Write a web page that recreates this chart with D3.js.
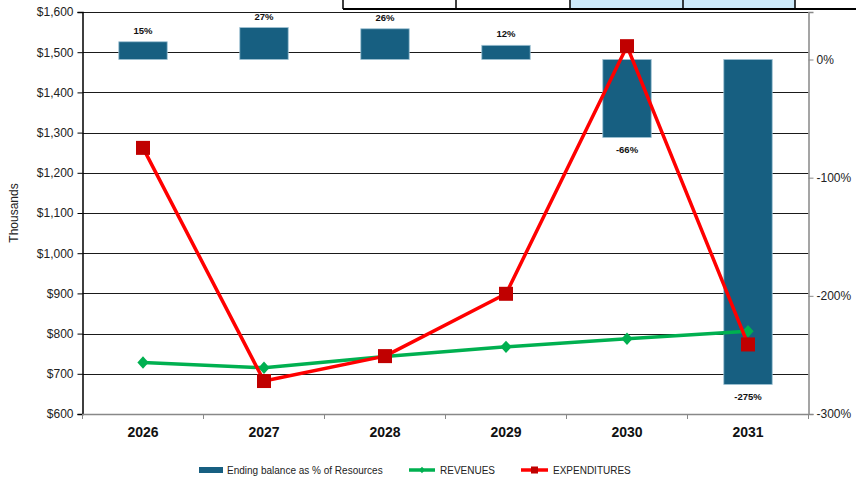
<!DOCTYPE html>
<html>
<head>
<meta charset="utf-8">
<script src="https://cdn.jsdelivr.net/npm/d3@7"></script>
<style>
  html, body { margin: 0; padding: 0; background: #fff; }
  svg { display: block; font-family: "Liberation Sans", Arial, sans-serif; }
</style>
</head>
<body>
<svg id="chart" width="856" height="477"></svg>
<script>
// Fiscal years on the category axis
const years = ["2026", "2027", "2028", "2029", "2030", "2031"];
// Ending balance as a share of resources (percent, right axis)
const balancePct = [15, 27, 26, 12, -66, -275];
// Revenues and expenditures in thousands of dollars (left axis)
const revenues = [728, 715, 743, 767, 787, 806];
const expenditures = [1262, 682, 744, 899, 1515, 773];
// Axis tick values
const leftTicks = [600, 700, 800, 900, 1000, 1100, 1200, 1300, 1400, 1500, 1600];
const rightTicks = [0, -100, -200, -300];

const svg = d3.select("#chart");
const plot = { left: 82.5, right: 808.5, top: 12, bottom: 414 };

const x = d3.scaleBand().domain(years).range([plot.left, plot.right]).paddingInner(0).paddingOuter(0);
const yL = d3.scaleLinear().domain([600, 1600]).range([plot.bottom, plot.top]);
const yR = d3.scaleLinear().domain([-300, 40.2]).range([plot.bottom, plot.top]);
const cx = d => x(d) + x.bandwidth() / 2;

// Header table strip above the plot
const tableCols = [343, 456, 570, 683, 795];
const shaded = [[570, 683], [683, 795]];
shaded.forEach(([a, b]) => {
  svg.append("rect").attr("x", a).attr("y", 0).attr("width", b - a).attr("height", 9)
    .attr("fill", "#cdeafa");
});
svg.append("line").attr("x1", 343).attr("x2", 856).attr("y1", 9).attr("y2", 9)
  .attr("stroke", "#000").attr("stroke-width", 2);
tableCols.forEach(c => {
  svg.append("line").attr("x1", c).attr("x2", c).attr("y1", 0).attr("y2", 9)
    .attr("stroke", "#000").attr("stroke-width", 1.5);
});

// Horizontal gridlines
svg.append("g")
  .selectAll("line")
  .data(leftTicks.filter(t => t > 600 && t < 1600))
  .join("line")
  .attr("x1", plot.left).attr("x2", plot.right)
  .attr("y1", d => Math.round(yL(d)) + 0.5).attr("y2", d => Math.round(yL(d)) + 0.5)
  .attr("stroke", "#1a1a1a").attr("stroke-width", 1);

// Top border of the plot
svg.append("line").attr("x1", plot.left).attr("x2", plot.right)
  .attr("y1", plot.top + 0.5).attr("y2", plot.top + 0.5).attr("stroke", "#1a1a1a");

// Balance bars
const barW = x.bandwidth() * 0.4;
svg.append("g")
  .selectAll("rect")
  .data(years.map((y, i) => ({ y, v: balancePct[i] })))
  .join("rect")
  .attr("x", d => cx(d.y) - barW / 2)
  .attr("y", d => Math.min(yR(d.v), yR(0)))
  .attr("width", barW)
  .attr("height", d => Math.abs(yR(d.v) - yR(0)))
  .attr("fill", "#175f81")
  .attr("stroke", "#9cc0d2")
  .attr("stroke-width", 0.8);

// Bar value labels
svg.append("g")
  .selectAll("text")
  .data(years.map((y, i) => ({ y, v: balancePct[i] })))
  .join("text")
  .attr("x", d => cx(d.y))
  .attr("y", d => d.v >= 0 ? yR(d.v) - 8 : yR(d.v) + 16)
  .attr("text-anchor", "middle")
  .attr("font-size", 9.5)
  .attr("font-weight", "bold")
  .attr("fill", "#111")
  .text(d => d.v + "%");

// Left axis
const leftAxis = d3.axisLeft(yL).tickValues(leftTicks).tickSize(5).tickPadding(4)
  .tickFormat(d => "$" + d3.format(",")(d));
const gL = svg.append("g").attr("transform", `translate(${plot.left},0)`).call(leftAxis);
gL.select(".domain").attr("stroke", "#000").attr("stroke-width", 1.5);
gL.selectAll(".tick line").attr("stroke", "#000");
gL.selectAll(".tick text").attr("font-size", 12).attr("fill", "#222")
  .attr("font-family", "'Liberation Sans', Arial, sans-serif");

// Right axis
const rightAxis = d3.axisRight(yR).tickValues(rightTicks).tickSize(5).tickPadding(3)
  .tickFormat(d => d + "%");
const gR = svg.append("g").attr("transform", `translate(${plot.right},0)`).call(rightAxis);
gR.select(".domain").attr("stroke", "#888").attr("stroke-width", 1.5);
gR.selectAll(".tick line").attr("stroke", "#888");
gR.selectAll(".tick text").attr("font-size", 12).attr("fill", "#222")
  .attr("font-family", "'Liberation Sans', Arial, sans-serif");

// Category axis
svg.append("line").attr("x1", plot.left).attr("x2", plot.right)
  .attr("y1", plot.bottom + 0.5).attr("y2", plot.bottom + 0.5)
  .attr("stroke", "#888").attr("stroke-width", 1.5);
const bounds = years.map(y => x(y)).concat([plot.right]);
svg.append("g").selectAll("line").data(bounds).join("line")
  .attr("x1", d => d).attr("x2", d => d)
  .attr("y1", plot.bottom).attr("y2", plot.bottom + 5)
  .attr("stroke", "#888");
svg.append("g").selectAll("text").data(years).join("text")
  .attr("x", d => cx(d)).attr("y", 437)
  .attr("text-anchor", "middle")
  .attr("font-size", 14).attr("font-weight", "bold").attr("fill", "#111")
  .text(d => d);

// Axis title
svg.append("text")
  .attr("transform", `translate(18,${(plot.top + plot.bottom) / 2}) rotate(-90)`)
  .attr("text-anchor", "middle")
  .attr("font-size", 12).attr("fill", "#222")
  .text("Thousands");

// Revenue line with diamond markers
const lineL = vals => d3.line().x((d, i) => cx(years[i])).y(d => yL(d))(vals);
svg.append("path").attr("d", lineL(revenues))
  .attr("fill", "none").attr("stroke", "#00b050").attr("stroke-width", 3.5)
  .attr("stroke-linejoin", "round");
svg.append("g").selectAll("path").data(revenues).join("path")
  .attr("d", d3.symbol().type(d3.symbolDiamond).size(70))
  .attr("transform", (d, i) => `translate(${cx(years[i])},${yL(d)}) scale(1.25,0.8)`)
  .attr("fill", "#00b050");

// Expenditure line with square markers
svg.append("path").attr("d", lineL(expenditures))
  .attr("fill", "none").attr("stroke", "#ff0000").attr("stroke-width", 3.5)
  .attr("stroke-linejoin", "round");
svg.append("g").selectAll("rect").data(expenditures).join("rect")
  .attr("x", (d, i) => cx(years[i]) - 7)
  .attr("y", d => yL(d) - 7)
  .attr("width", 14).attr("height", 14)
  .attr("fill", "#c00000");

// Legend
const lg = svg.append("g").attr("font-size", 10).attr("fill", "#222");
lg.append("rect").attr("x", 199).attr("y", 467).attr("width", 24).attr("height", 6).attr("fill", "#175f81");
lg.append("text").attr("x", 227).attr("y", 473.5).text("Ending balance as % of Resources");
lg.append("line").attr("x1", 409).attr("x2", 435).attr("y1", 470).attr("y2", 470)
  .attr("stroke", "#00b050").attr("stroke-width", 3.5);
lg.append("path").attr("d", d3.symbol().type(d3.symbolDiamond).size(20))
  .attr("transform", "translate(422,470) scale(1.2,0.8)").attr("fill", "#00b050");
lg.append("text").attr("x", 440).attr("y", 473.5).text("REVENUES");
lg.append("line").attr("x1", 521).attr("x2", 548).attr("y1", 470).attr("y2", 470)
  .attr("stroke", "#ff0000").attr("stroke-width", 3.5);
lg.append("rect").attr("x", 531).attr("y", 466.5).attr("width", 7).attr("height", 7).attr("fill", "#c00000");
lg.append("text").attr("x", 553).attr("y", 473.5).text("EXPENDITURES");
</script>
</body>
</html>
